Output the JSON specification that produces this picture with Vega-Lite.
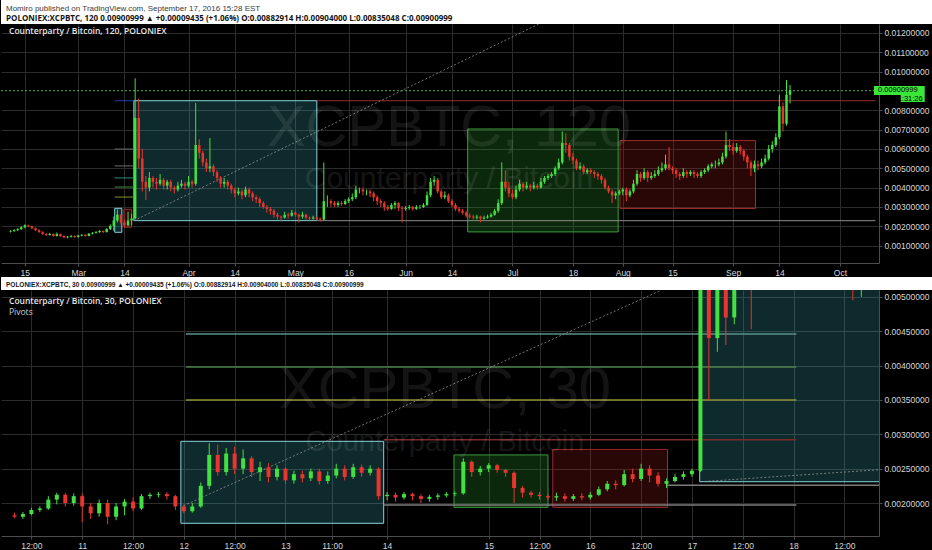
{
"$schema": "https://vega.github.io/schema/vega-lite/v6.json",
"background": "#000000",
"padding": 0,
"spacing": 0,
"resolve": {"scale": {"color": "independent", "fill": "independent", "stroke": "independent"}},
"config": {
 "view": {"stroke": null},
 "concat": {"spacing": 0},
 "font": "Liberation Sans",
 "axis": {"domainColor": "#4d4d4d", "tickColor": "#4d4d4d", "labelColor": "#d6d6d6", "labelFont": "Liberation Sans", "labelFontSize": 8.5, "gridColor": "#2c2c2c", "tickSize": 3, "labelPadding": 2, "labelOverlap": false},
 "axisY": {"labelOverlap": false}
},
"datasets": {
 "top": [
{"d":"2016-02-11","o":0.00172,"h":0.0018,"l":0.00168,"c":0.00175},
{"d":"2016-02-12","o":0.00175,"h":0.00185,"l":0.00172,"c":0.0018},
{"d":"2016-02-13","o":0.0018,"h":0.0019,"l":0.00176,"c":0.00185},
{"d":"2016-02-14","o":0.00185,"h":0.002,"l":0.00182,"c":0.00195},
{"d":"2016-02-15","o":0.00195,"h":0.0021,"l":0.0019,"c":0.00205},
{"d":"2016-02-16","o":0.00205,"h":0.00208,"l":0.00195,"c":0.002},
{"d":"2016-02-17","o":0.002,"h":0.00202,"l":0.00185,"c":0.0019},
{"d":"2016-02-18","o":0.0019,"h":0.00193,"l":0.00175,"c":0.0018},
{"d":"2016-02-19","o":0.0018,"h":0.00184,"l":0.00166,"c":0.0017},
{"d":"2016-02-20","o":0.0017,"h":0.00174,"l":0.00156,"c":0.0016},
{"d":"2016-02-21","o":0.0016,"h":0.00165,"l":0.0015,"c":0.00155},
{"d":"2016-02-22","o":0.00155,"h":0.00166,"l":0.00152,"c":0.0016},
{"d":"2016-02-23","o":0.0016,"h":0.00163,"l":0.00146,"c":0.0015},
{"d":"2016-02-24","o":0.0015,"h":0.00168,"l":0.00147,"c":0.0016},
{"d":"2016-02-25","o":0.0016,"h":0.00162,"l":0.00145,"c":0.0015},
{"d":"2016-02-26","o":0.0015,"h":0.00153,"l":0.00138,"c":0.00142},
{"d":"2016-02-27","o":0.00142,"h":0.0015,"l":0.00138,"c":0.00146},
{"d":"2016-02-28","o":0.00146,"h":0.00155,"l":0.00142,"c":0.0015},
{"d":"2016-02-29","o":0.0015,"h":0.00153,"l":0.0014,"c":0.00145},
{"d":"2016-03-01","o":0.00145,"h":0.00156,"l":0.00142,"c":0.00152},
{"d":"2016-03-02","o":0.00152,"h":0.0016,"l":0.00148,"c":0.00156},
{"d":"2016-03-03","o":0.00156,"h":0.00158,"l":0.00146,"c":0.0015},
{"d":"2016-03-04","o":0.0015,"h":0.00165,"l":0.00148,"c":0.00162},
{"d":"2016-03-05","o":0.00162,"h":0.0017,"l":0.00158,"c":0.00166},
{"d":"2016-03-06","o":0.00166,"h":0.00175,"l":0.00162,"c":0.0017},
{"d":"2016-03-07","o":0.0017,"h":0.0018,"l":0.00166,"c":0.00176},
{"d":"2016-03-08","o":0.00176,"h":0.00178,"l":0.00164,"c":0.0017},
{"d":"2016-03-09","o":0.0017,"h":0.0019,"l":0.00168,"c":0.00186},
{"d":"2016-03-10","o":0.00186,"h":0.0021,"l":0.0018,"c":0.00202},
{"d":"2016-03-11","o":0.00202,"h":0.0025,"l":0.00175,"c":0.0023},
{"d":"2016-03-12","o":0.0023,"h":0.00287,"l":0.0022,"c":0.0026},
{"d":"2016-03-13","o":0.0026,"h":0.00262,"l":0.0021,"c":0.0022},
{"d":"2016-03-14","o":0.0022,"h":0.00235,"l":0.00195,"c":0.00205},
{"d":"2016-03-15","o":0.00205,"h":0.00275,"l":0.002,"c":0.0023},
{"d":"2016-03-16","o":0.0023,"h":0.00264,"l":0.00205,"c":0.0024},
{"d":"2016-03-17","o":0.0024,"h":0.00965,"l":0.00238,"c":0.0076},
{"d":"2016-03-18","o":0.0076,"h":0.0086,"l":0.005,"c":0.0055},
{"d":"2016-03-19","o":0.0055,"h":0.006,"l":0.0038,"c":0.0043},
{"d":"2016-03-20","o":0.0043,"h":0.0046,"l":0.00336,"c":0.004},
{"d":"2016-03-21","o":0.004,"h":0.0048,"l":0.0038,"c":0.0045},
{"d":"2016-03-22","o":0.0045,"h":0.0046,"l":0.004,"c":0.0043},
{"d":"2016-03-23","o":0.0043,"h":0.0045,"l":0.0039,"c":0.0042},
{"d":"2016-03-24","o":0.0042,"h":0.0047,"l":0.0041,"c":0.0044},
{"d":"2016-03-25","o":0.0044,"h":0.0045,"l":0.0039,"c":0.0041},
{"d":"2016-03-26","o":0.0041,"h":0.0044,"l":0.0039,"c":0.0043},
{"d":"2016-03-27","o":0.0043,"h":0.0044,"l":0.0038,"c":0.004},
{"d":"2016-03-28","o":0.004,"h":0.0041,"l":0.0037,"c":0.0039},
{"d":"2016-03-29","o":0.0039,"h":0.0043,"l":0.0038,"c":0.0041},
{"d":"2016-03-30","o":0.0041,"h":0.0044,"l":0.004,"c":0.0042},
{"d":"2016-03-31","o":0.0042,"h":0.0043,"l":0.0039,"c":0.0041},
{"d":"2016-04-01","o":0.0041,"h":0.0046,"l":0.004,"c":0.0043},
{"d":"2016-04-02","o":0.0043,"h":0.0044,"l":0.004,"c":0.0042},
{"d":"2016-04-03","o":0.0042,"h":0.00837,"l":0.0041,"c":0.0062},
{"d":"2016-04-04","o":0.0062,"h":0.0065,"l":0.0055,"c":0.0058},
{"d":"2016-04-05","o":0.0058,"h":0.0059,"l":0.0051,"c":0.0053},
{"d":"2016-04-06","o":0.0053,"h":0.0055,"l":0.0048,"c":0.005},
{"d":"2016-04-07","o":0.005,"h":0.00656,"l":0.0048,"c":0.0051},
{"d":"2016-04-08","o":0.0051,"h":0.0052,"l":0.0046,"c":0.0048},
{"d":"2016-04-09","o":0.0048,"h":0.0049,"l":0.0043,"c":0.0045},
{"d":"2016-04-10","o":0.0045,"h":0.0046,"l":0.004,"c":0.0042},
{"d":"2016-04-11","o":0.0042,"h":0.0045,"l":0.004,"c":0.0043},
{"d":"2016-04-12","o":0.0043,"h":0.0044,"l":0.0039,"c":0.0041},
{"d":"2016-04-13","o":0.0041,"h":0.0042,"l":0.0037,"c":0.0039},
{"d":"2016-04-14","o":0.0039,"h":0.004,"l":0.0035,"c":0.0037},
{"d":"2016-04-15","o":0.0037,"h":0.004,"l":0.0036,"c":0.0038},
{"d":"2016-04-16","o":0.0038,"h":0.0039,"l":0.0034,"c":0.0036},
{"d":"2016-04-17","o":0.0036,"h":0.00405,"l":0.0035,"c":0.0039},
{"d":"2016-04-18","o":0.0039,"h":0.004,"l":0.0035,"c":0.0037},
{"d":"2016-04-19","o":0.0037,"h":0.0038,"l":0.0033,"c":0.0035},
{"d":"2016-04-20","o":0.0035,"h":0.0036,"l":0.0032,"c":0.0034},
{"d":"2016-04-21","o":0.0034,"h":0.0035,"l":0.003,"c":0.0032},
{"d":"2016-04-22","o":0.0032,"h":0.0033,"l":0.0029,"c":0.003},
{"d":"2016-04-23","o":0.003,"h":0.0031,"l":0.0027,"c":0.0029},
{"d":"2016-04-24","o":0.0029,"h":0.003,"l":0.0026,"c":0.0028},
{"d":"2016-04-25","o":0.0028,"h":0.0029,"l":0.00245,"c":0.0026},
{"d":"2016-04-26","o":0.0026,"h":0.0027,"l":0.00235,"c":0.0025},
{"d":"2016-04-27","o":0.0025,"h":0.00255,"l":0.00225,"c":0.00245},
{"d":"2016-04-28","o":0.00245,"h":0.00275,"l":0.0024,"c":0.0026},
{"d":"2016-04-29","o":0.0026,"h":0.0027,"l":0.0024,"c":0.00255},
{"d":"2016-04-30","o":0.00255,"h":0.00285,"l":0.0025,"c":0.0027},
{"d":"2016-05-01","o":0.0027,"h":0.0028,"l":0.0025,"c":0.0026},
{"d":"2016-05-02","o":0.0026,"h":0.00265,"l":0.0022,"c":0.0025},
{"d":"2016-05-03","o":0.0025,"h":0.00275,"l":0.0024,"c":0.0026},
{"d":"2016-05-04","o":0.0026,"h":0.00265,"l":0.00235,"c":0.00245},
{"d":"2016-05-05","o":0.00245,"h":0.0025,"l":0.0023,"c":0.0024},
{"d":"2016-05-06","o":0.0024,"h":0.00255,"l":0.00235,"c":0.00245},
{"d":"2016-05-07","o":0.00245,"h":0.0025,"l":0.0023,"c":0.0024},
{"d":"2016-05-08","o":0.0024,"h":0.00245,"l":0.00225,"c":0.00235},
{"d":"2016-05-09","o":0.00235,"h":0.0053,"l":0.0023,"c":0.0033},
{"d":"2016-05-10","o":0.0033,"h":0.0036,"l":0.003,"c":0.0033},
{"d":"2016-05-11","o":0.0033,"h":0.0034,"l":0.003,"c":0.0032},
{"d":"2016-05-12","o":0.0032,"h":0.0033,"l":0.003,"c":0.0031},
{"d":"2016-05-13","o":0.0031,"h":0.0033,"l":0.003,"c":0.0032},
{"d":"2016-05-14","o":0.0032,"h":0.0033,"l":0.00305,"c":0.00315},
{"d":"2016-05-15","o":0.00315,"h":0.0034,"l":0.0031,"c":0.0033},
{"d":"2016-05-16","o":0.0033,"h":0.0035,"l":0.0032,"c":0.0034},
{"d":"2016-05-17","o":0.0034,"h":0.0037,"l":0.0033,"c":0.0035},
{"d":"2016-05-18","o":0.0035,"h":0.0041,"l":0.0034,"c":0.0039},
{"d":"2016-05-19","o":0.0039,"h":0.004,"l":0.0037,"c":0.0039},
{"d":"2016-05-20","o":0.0039,"h":0.004,"l":0.0036,"c":0.0038},
{"d":"2016-05-21","o":0.0038,"h":0.0039,"l":0.0036,"c":0.0038},
{"d":"2016-05-22","o":0.0038,"h":0.0039,"l":0.0035,"c":0.0037},
{"d":"2016-05-23","o":0.0037,"h":0.0038,"l":0.0033,"c":0.0035},
{"d":"2016-05-24","o":0.0035,"h":0.0036,"l":0.0031,"c":0.0033},
{"d":"2016-05-25","o":0.0033,"h":0.0034,"l":0.003,"c":0.0032},
{"d":"2016-05-26","o":0.0032,"h":0.0033,"l":0.0028,"c":0.003},
{"d":"2016-05-27","o":0.003,"h":0.0031,"l":0.0028,"c":0.0029},
{"d":"2016-05-28","o":0.0029,"h":0.0032,"l":0.00285,"c":0.0031},
{"d":"2016-05-29","o":0.0031,"h":0.0033,"l":0.0029,"c":0.0032},
{"d":"2016-05-30","o":0.0032,"h":0.00325,"l":0.0028,"c":0.00295},
{"d":"2016-05-31","o":0.00295,"h":0.00305,"l":0.0022,"c":0.0029},
{"d":"2016-06-01","o":0.0029,"h":0.00305,"l":0.0028,"c":0.00295},
{"d":"2016-06-02","o":0.00295,"h":0.0031,"l":0.00285,"c":0.003},
{"d":"2016-06-03","o":0.003,"h":0.00305,"l":0.0028,"c":0.0029},
{"d":"2016-06-04","o":0.0029,"h":0.0031,"l":0.00285,"c":0.003},
{"d":"2016-06-05","o":0.003,"h":0.0031,"l":0.0029,"c":0.003},
{"d":"2016-06-06","o":0.003,"h":0.0032,"l":0.00295,"c":0.0031},
{"d":"2016-06-07","o":0.0031,"h":0.0038,"l":0.00305,"c":0.0036},
{"d":"2016-06-08","o":0.0036,"h":0.0045,"l":0.0035,"c":0.0043},
{"d":"2016-06-09","o":0.0043,"h":0.0046,"l":0.0041,"c":0.0044},
{"d":"2016-06-10","o":0.0044,"h":0.0045,"l":0.0037,"c":0.0038},
{"d":"2016-06-11","o":0.0038,"h":0.0039,"l":0.0034,"c":0.0035},
{"d":"2016-06-12","o":0.0035,"h":0.0038,"l":0.0034,"c":0.0036},
{"d":"2016-06-13","o":0.0036,"h":0.0037,"l":0.0032,"c":0.0033},
{"d":"2016-06-14","o":0.0033,"h":0.0034,"l":0.003,"c":0.0031},
{"d":"2016-06-15","o":0.0031,"h":0.0032,"l":0.0028,"c":0.0029},
{"d":"2016-06-16","o":0.0029,"h":0.003,"l":0.0027,"c":0.0028},
{"d":"2016-06-17","o":0.0028,"h":0.0029,"l":0.0026,"c":0.0027},
{"d":"2016-06-18","o":0.0027,"h":0.0028,"l":0.00245,"c":0.00255},
{"d":"2016-06-19","o":0.00255,"h":0.00265,"l":0.0024,"c":0.0025},
{"d":"2016-06-20","o":0.0025,"h":0.0026,"l":0.00235,"c":0.00245},
{"d":"2016-06-21","o":0.00245,"h":0.0026,"l":0.00235,"c":0.0025},
{"d":"2016-06-22","o":0.0025,"h":0.00255,"l":0.0022,"c":0.0024},
{"d":"2016-06-23","o":0.0024,"h":0.00255,"l":0.00235,"c":0.00245},
{"d":"2016-06-24","o":0.00245,"h":0.0026,"l":0.0024,"c":0.0025},
{"d":"2016-06-25","o":0.0025,"h":0.0027,"l":0.00245,"c":0.0026},
{"d":"2016-06-26","o":0.0026,"h":0.0029,"l":0.00255,"c":0.0028},
{"d":"2016-06-27","o":0.0028,"h":0.0034,"l":0.0027,"c":0.0032},
{"d":"2016-06-28","o":0.0032,"h":0.0053,"l":0.0031,"c":0.0043},
{"d":"2016-06-29","o":0.0043,"h":0.0049,"l":0.0038,"c":0.004},
{"d":"2016-06-30","o":0.004,"h":0.0043,"l":0.0035,"c":0.0037},
{"d":"2016-07-01","o":0.0037,"h":0.0039,"l":0.0034,"c":0.0035},
{"d":"2016-07-02","o":0.0035,"h":0.0041,"l":0.0034,"c":0.0039},
{"d":"2016-07-03","o":0.0039,"h":0.0044,"l":0.0038,"c":0.0042},
{"d":"2016-07-04","o":0.0042,"h":0.0043,"l":0.0038,"c":0.004},
{"d":"2016-07-05","o":0.004,"h":0.0043,"l":0.0039,"c":0.0041},
{"d":"2016-07-06","o":0.0041,"h":0.0042,"l":0.0038,"c":0.004},
{"d":"2016-07-07","o":0.004,"h":0.0043,"l":0.0039,"c":0.0041},
{"d":"2016-07-08","o":0.0041,"h":0.0042,"l":0.0039,"c":0.004},
{"d":"2016-07-09","o":0.004,"h":0.0045,"l":0.00395,"c":0.0043},
{"d":"2016-07-10","o":0.0043,"h":0.0046,"l":0.0042,"c":0.0045},
{"d":"2016-07-11","o":0.0045,"h":0.0047,"l":0.0044,"c":0.0046},
{"d":"2016-07-12","o":0.0046,"h":0.0048,"l":0.0045,"c":0.0047},
{"d":"2016-07-13","o":0.0047,"h":0.0051,"l":0.0046,"c":0.005},
{"d":"2016-07-14","o":0.005,"h":0.0055,"l":0.0049,"c":0.0053},
{"d":"2016-07-15","o":0.0053,"h":0.0069,"l":0.0052,"c":0.0063},
{"d":"2016-07-16","o":0.0063,"h":0.0068,"l":0.0058,"c":0.0062},
{"d":"2016-07-17","o":0.0062,"h":0.0063,"l":0.0054,"c":0.0056},
{"d":"2016-07-18","o":0.0056,"h":0.0058,"l":0.0052,"c":0.0054},
{"d":"2016-07-19","o":0.0054,"h":0.0055,"l":0.0049,"c":0.005},
{"d":"2016-07-20","o":0.005,"h":0.0053,"l":0.0049,"c":0.0051},
{"d":"2016-07-21","o":0.0051,"h":0.0052,"l":0.0047,"c":0.0048},
{"d":"2016-07-22","o":0.0048,"h":0.005,"l":0.0047,"c":0.0049},
{"d":"2016-07-23","o":0.0049,"h":0.005,"l":0.0047,"c":0.0048},
{"d":"2016-07-24","o":0.0048,"h":0.0049,"l":0.0045,"c":0.0047},
{"d":"2016-07-25","o":0.0047,"h":0.0048,"l":0.0044,"c":0.0046},
{"d":"2016-07-26","o":0.0046,"h":0.0047,"l":0.0042,"c":0.0044},
{"d":"2016-07-27","o":0.0044,"h":0.0045,"l":0.0039,"c":0.004},
{"d":"2016-07-28","o":0.004,"h":0.0041,"l":0.0037,"c":0.0038},
{"d":"2016-07-29","o":0.0038,"h":0.0039,"l":0.0032,"c":0.0036},
{"d":"2016-07-30","o":0.0036,"h":0.0038,"l":0.0034,"c":0.0037},
{"d":"2016-07-31","o":0.0037,"h":0.0039,"l":0.0036,"c":0.0038},
{"d":"2016-08-01","o":0.0038,"h":0.004,"l":0.0036,"c":0.0039},
{"d":"2016-08-02","o":0.0039,"h":0.004,"l":0.0033,"c":0.0036},
{"d":"2016-08-03","o":0.0036,"h":0.0039,"l":0.0035,"c":0.0038},
{"d":"2016-08-04","o":0.0038,"h":0.0044,"l":0.0037,"c":0.0042},
{"d":"2016-08-05","o":0.0042,"h":0.0049,"l":0.0041,"c":0.0047},
{"d":"2016-08-06","o":0.0047,"h":0.0048,"l":0.0043,"c":0.0045},
{"d":"2016-08-07","o":0.0045,"h":0.005,"l":0.0044,"c":0.0048},
{"d":"2016-08-08","o":0.0048,"h":0.0049,"l":0.0043,"c":0.0045},
{"d":"2016-08-09","o":0.0045,"h":0.0048,"l":0.0044,"c":0.0046},
{"d":"2016-08-10","o":0.0046,"h":0.0049,"l":0.0045,"c":0.0047},
{"d":"2016-08-11","o":0.0047,"h":0.0051,"l":0.0046,"c":0.0049},
{"d":"2016-08-12","o":0.0049,"h":0.0053,"l":0.0048,"c":0.005},
{"d":"2016-08-13","o":0.005,"h":0.0057,"l":0.0049,"c":0.0052},
{"d":"2016-08-14","o":0.0052,"h":0.0061,"l":0.0049,"c":0.005},
{"d":"2016-08-15","o":0.005,"h":0.0051,"l":0.0047,"c":0.0049},
{"d":"2016-08-16","o":0.0049,"h":0.005,"l":0.0045,"c":0.0047},
{"d":"2016-08-17","o":0.0047,"h":0.0048,"l":0.0044,"c":0.0046},
{"d":"2016-08-18","o":0.0046,"h":0.005,"l":0.0045,"c":0.0048},
{"d":"2016-08-19","o":0.0048,"h":0.0049,"l":0.0045,"c":0.0047},
{"d":"2016-08-20","o":0.0047,"h":0.0049,"l":0.0046,"c":0.0048},
{"d":"2016-08-21","o":0.0048,"h":0.0049,"l":0.0045,"c":0.0047},
{"d":"2016-08-22","o":0.0047,"h":0.0048,"l":0.0045,"c":0.0046},
{"d":"2016-08-23","o":0.0046,"h":0.0049,"l":0.0045,"c":0.0048},
{"d":"2016-08-24","o":0.0048,"h":0.005,"l":0.0047,"c":0.0049},
{"d":"2016-08-25","o":0.0049,"h":0.0052,"l":0.0048,"c":0.0051},
{"d":"2016-08-26","o":0.0051,"h":0.0053,"l":0.005,"c":0.0052},
{"d":"2016-08-27","o":0.0052,"h":0.0054,"l":0.005,"c":0.0052},
{"d":"2016-08-28","o":0.0052,"h":0.0055,"l":0.0051,"c":0.0053},
{"d":"2016-08-29","o":0.0053,"h":0.0058,"l":0.0052,"c":0.0056},
{"d":"2016-08-30","o":0.0056,"h":0.0069,"l":0.0055,"c":0.0062},
{"d":"2016-08-31","o":0.0062,"h":0.0065,"l":0.0059,"c":0.0061},
{"d":"2016-09-01","o":0.0061,"h":0.0063,"l":0.0057,"c":0.0059},
{"d":"2016-09-02","o":0.0059,"h":0.0063,"l":0.0058,"c":0.0061},
{"d":"2016-09-03","o":0.0061,"h":0.0062,"l":0.0057,"c":0.0059},
{"d":"2016-09-04","o":0.0059,"h":0.006,"l":0.0054,"c":0.0056},
{"d":"2016-09-05","o":0.0056,"h":0.0057,"l":0.005,"c":0.0053},
{"d":"2016-09-06","o":0.0053,"h":0.0054,"l":0.0046,"c":0.005},
{"d":"2016-09-07","o":0.005,"h":0.0054,"l":0.0048,"c":0.0052},
{"d":"2016-09-08","o":0.0052,"h":0.0054,"l":0.0049,"c":0.0051},
{"d":"2016-09-09","o":0.0051,"h":0.0055,"l":0.005,"c":0.0053},
{"d":"2016-09-10","o":0.0053,"h":0.0057,"l":0.0052,"c":0.0055},
{"d":"2016-09-11","o":0.0055,"h":0.0062,"l":0.0054,"c":0.006},
{"d":"2016-09-12","o":0.006,"h":0.0064,"l":0.0058,"c":0.0062},
{"d":"2016-09-13","o":0.0062,"h":0.0068,"l":0.0061,"c":0.0066},
{"d":"2016-09-14","o":0.0066,"h":0.0088,"l":0.0065,"c":0.0082},
{"d":"2016-09-15","o":0.0082,"h":0.0084,"l":0.0069,"c":0.0073},
{"d":"2016-09-16","o":0.0073,"h":0.00956,"l":0.0072,"c":0.0088},
{"d":"2016-09-17","o":0.0088,"h":0.0093,"l":0.00835,"c":0.00901}
 ],
 "bot": [
{"t":"2016-03-10T08:00Z","o":0.00182,"h":0.00186,"l":0.00178,"c":0.0018},
{"t":"2016-03-10T10:00Z","o":0.0018,"h":0.00187,"l":0.00177,"c":0.00184},
{"t":"2016-03-10T12:00Z","o":0.00184,"h":0.00193,"l":0.00182,"c":0.0019},
{"t":"2016-03-10T14:00Z","o":0.0019,"h":0.00195,"l":0.00187,"c":0.00192},
{"t":"2016-03-10T16:00Z","o":0.00192,"h":0.0021,"l":0.0019,"c":0.00205},
{"t":"2016-03-10T18:00Z","o":0.00205,"h":0.00215,"l":0.00198,"c":0.00212},
{"t":"2016-03-10T20:00Z","o":0.00212,"h":0.00215,"l":0.00195,"c":0.002},
{"t":"2016-03-10T22:00Z","o":0.002,"h":0.00214,"l":0.00196,"c":0.0021},
{"t":"2016-03-11T00:00Z","o":0.0021,"h":0.00214,"l":0.00172,"c":0.00195},
{"t":"2016-03-11T02:00Z","o":0.00195,"h":0.002,"l":0.00177,"c":0.00185},
{"t":"2016-03-11T04:00Z","o":0.00185,"h":0.00205,"l":0.0018,"c":0.002},
{"t":"2016-03-11T06:00Z","o":0.002,"h":0.00205,"l":0.00169,"c":0.0018},
{"t":"2016-03-11T08:00Z","o":0.0018,"h":0.002,"l":0.00175,"c":0.00195},
{"t":"2016-03-11T10:00Z","o":0.00195,"h":0.00206,"l":0.00182,"c":0.00202},
{"t":"2016-03-11T12:00Z","o":0.00202,"h":0.00208,"l":0.00188,"c":0.00192},
{"t":"2016-03-11T14:00Z","o":0.00192,"h":0.00213,"l":0.0019,"c":0.0021},
{"t":"2016-03-11T16:00Z","o":0.0021,"h":0.00215,"l":0.00206,"c":0.00212},
{"t":"2016-03-11T18:00Z","o":0.00212,"h":0.00216,"l":0.00208,"c":0.00213},
{"t":"2016-03-11T20:00Z","o":0.00213,"h":0.00216,"l":0.00205,"c":0.0021},
{"t":"2016-03-11T22:00Z","o":0.0021,"h":0.00212,"l":0.0019,"c":0.00195},
{"t":"2016-03-12T00:00Z","o":0.00195,"h":0.00198,"l":0.00185,"c":0.00188},
{"t":"2016-03-12T02:00Z","o":0.00188,"h":0.002,"l":0.00186,"c":0.00195},
{"t":"2016-03-12T04:00Z","o":0.00195,"h":0.0023,"l":0.00193,"c":0.00225},
{"t":"2016-03-12T06:00Z","o":0.00225,"h":0.00287,"l":0.0022,"c":0.0027},
{"t":"2016-03-12T08:00Z","o":0.0027,"h":0.00285,"l":0.0024,"c":0.00245},
{"t":"2016-03-12T10:00Z","o":0.00245,"h":0.0028,"l":0.0024,"c":0.00272},
{"t":"2016-03-12T12:00Z","o":0.00272,"h":0.00282,"l":0.00242,"c":0.0025},
{"t":"2016-03-12T14:00Z","o":0.0025,"h":0.00278,"l":0.00242,"c":0.00265},
{"t":"2016-03-12T16:00Z","o":0.00265,"h":0.00268,"l":0.00238,"c":0.00245},
{"t":"2016-03-12T18:00Z","o":0.00245,"h":0.0026,"l":0.00232,"c":0.00252},
{"t":"2016-03-12T20:00Z","o":0.00252,"h":0.00258,"l":0.0023,"c":0.00238},
{"t":"2016-03-12T22:00Z","o":0.00238,"h":0.00255,"l":0.00233,"c":0.0025},
{"t":"2016-03-13T00:00Z","o":0.0025,"h":0.00252,"l":0.00228,"c":0.00233},
{"t":"2016-03-13T02:00Z","o":0.00233,"h":0.00247,"l":0.00228,"c":0.00242},
{"t":"2016-03-13T04:00Z","o":0.00242,"h":0.00247,"l":0.0023,"c":0.00236},
{"t":"2016-03-13T06:00Z","o":0.00236,"h":0.0025,"l":0.00232,"c":0.00246},
{"t":"2016-03-13T08:00Z","o":0.00246,"h":0.0025,"l":0.00227,"c":0.00232},
{"t":"2016-03-13T10:00Z","o":0.00232,"h":0.00246,"l":0.00228,"c":0.0024},
{"t":"2016-03-13T12:00Z","o":0.0024,"h":0.00257,"l":0.00236,"c":0.0025},
{"t":"2016-03-13T14:00Z","o":0.0025,"h":0.00255,"l":0.00233,"c":0.00238},
{"t":"2016-03-13T16:00Z","o":0.00238,"h":0.00257,"l":0.00235,"c":0.00252},
{"t":"2016-03-13T18:00Z","o":0.00252,"h":0.00256,"l":0.00238,"c":0.00244},
{"t":"2016-03-13T20:00Z","o":0.00244,"h":0.00255,"l":0.0024,"c":0.0025},
{"t":"2016-03-13T22:00Z","o":0.0025,"h":0.00252,"l":0.00205,"c":0.0021},
{"t":"2016-03-14T00:00Z","o":0.0021,"h":0.00216,"l":0.00204,"c":0.00212},
{"t":"2016-03-14T02:00Z","o":0.00212,"h":0.00215,"l":0.00202,"c":0.00208},
{"t":"2016-03-14T04:00Z","o":0.00208,"h":0.00216,"l":0.00205,"c":0.00213},
{"t":"2016-03-14T06:00Z","o":0.00213,"h":0.00215,"l":0.00204,"c":0.0021},
{"t":"2016-03-14T08:00Z","o":0.0021,"h":0.00213,"l":0.002,"c":0.00206},
{"t":"2016-03-14T10:00Z","o":0.00206,"h":0.00212,"l":0.00202,"c":0.00209},
{"t":"2016-03-14T12:00Z","o":0.00209,"h":0.00214,"l":0.00205,"c":0.00211},
{"t":"2016-03-14T14:00Z","o":0.00211,"h":0.00216,"l":0.00208,"c":0.00213},
{"t":"2016-03-14T16:00Z","o":0.00213,"h":0.00217,"l":0.0021,"c":0.00214},
{"t":"2016-03-14T18:00Z","o":0.00214,"h":0.00265,"l":0.00212,"c":0.0026},
{"t":"2016-03-14T20:00Z","o":0.0026,"h":0.00262,"l":0.00238,"c":0.00245},
{"t":"2016-03-14T22:00Z","o":0.00245,"h":0.00254,"l":0.0024,"c":0.0025},
{"t":"2016-03-15T00:00Z","o":0.0025,"h":0.00258,"l":0.00245,"c":0.00255},
{"t":"2016-03-15T02:00Z","o":0.00255,"h":0.00257,"l":0.00244,"c":0.00248},
{"t":"2016-03-15T04:00Z","o":0.00248,"h":0.0025,"l":0.00238,"c":0.00244},
{"t":"2016-03-15T06:00Z","o":0.00244,"h":0.00246,"l":0.002,"c":0.00222},
{"t":"2016-03-15T08:00Z","o":0.00222,"h":0.00225,"l":0.00208,"c":0.00215},
{"t":"2016-03-15T10:00Z","o":0.00215,"h":0.00218,"l":0.00208,"c":0.00212},
{"t":"2016-03-15T12:00Z","o":0.00212,"h":0.00216,"l":0.00205,"c":0.0021},
{"t":"2016-03-15T14:00Z","o":0.0021,"h":0.00214,"l":0.00204,"c":0.00208},
{"t":"2016-03-15T16:00Z","o":0.00208,"h":0.00215,"l":0.00203,"c":0.0021},
{"t":"2016-03-15T18:00Z","o":0.0021,"h":0.00214,"l":0.00202,"c":0.00206},
{"t":"2016-03-15T20:00Z","o":0.00206,"h":0.00213,"l":0.00203,"c":0.0021},
{"t":"2016-03-15T22:00Z","o":0.0021,"h":0.00214,"l":0.00204,"c":0.00208},
{"t":"2016-03-16T00:00Z","o":0.00208,"h":0.00216,"l":0.00205,"c":0.00212},
{"t":"2016-03-16T02:00Z","o":0.00212,"h":0.00224,"l":0.0021,"c":0.0022},
{"t":"2016-03-16T04:00Z","o":0.0022,"h":0.00232,"l":0.00217,"c":0.00228},
{"t":"2016-03-16T06:00Z","o":0.00228,"h":0.00233,"l":0.0022,"c":0.00226},
{"t":"2016-03-16T08:00Z","o":0.00226,"h":0.00248,"l":0.00224,"c":0.00242},
{"t":"2016-03-16T10:00Z","o":0.00242,"h":0.0025,"l":0.0023,"c":0.00235},
{"t":"2016-03-16T12:00Z","o":0.00235,"h":0.00257,"l":0.00232,"c":0.0025},
{"t":"2016-03-16T14:00Z","o":0.0025,"h":0.00255,"l":0.0023,"c":0.0024},
{"t":"2016-03-16T16:00Z","o":0.0024,"h":0.00245,"l":0.00224,"c":0.00228},
{"t":"2016-03-16T18:00Z","o":0.00228,"h":0.00236,"l":0.00222,"c":0.00232},
{"t":"2016-03-16T20:00Z","o":0.00232,"h":0.00242,"l":0.0023,"c":0.00238},
{"t":"2016-03-16T22:00Z","o":0.00238,"h":0.00246,"l":0.00234,"c":0.00242},
{"t":"2016-03-17T00:00Z","o":0.00242,"h":0.0025,"l":0.00238,"c":0.00247},
{"t":"2016-03-17T02:00Z","o":0.00247,"h":0.0068,"l":0.00245,"c":0.0053},
{"t":"2016-03-17T04:00Z","o":0.0053,"h":0.0062,"l":0.0035,"c":0.0044},
{"t":"2016-03-17T06:00Z","o":0.0044,"h":0.0059,"l":0.0042,"c":0.0051},
{"t":"2016-03-17T08:00Z","o":0.0051,"h":0.006,"l":0.0043,"c":0.0047},
{"t":"2016-03-17T10:00Z","o":0.0047,"h":0.006,"l":0.0046,"c":0.0055},
{"t":"2016-03-17T12:00Z","o":0.0055,"h":0.0066,"l":0.0052,"c":0.006},
{"t":"2016-03-17T14:00Z","o":0.006,"h":0.0064,"l":0.00453,"c":0.0056},
{"t":"2016-03-17T16:00Z","o":0.0056,"h":0.0067,"l":0.0053,"c":0.0062},
{"t":"2016-03-17T18:00Z","o":0.0062,"h":0.007,"l":0.0059,"c":0.0066},
{"t":"2016-03-17T20:00Z","o":0.0066,"h":0.0073,"l":0.0063,"c":0.0069},
{"t":"2016-03-17T22:00Z","o":0.0069,"h":0.0081,"l":0.0066,"c":0.0076},
{"t":"2016-03-18T00:00Z","o":0.0076,"h":0.0091,"l":0.0072,"c":0.0082},
{"t":"2016-03-18T02:00Z","o":0.0082,"h":0.00965,"l":0.0078,"c":0.009},
{"t":"2016-03-18T04:00Z","o":0.009,"h":0.0093,"l":0.0076,"c":0.0081},
{"t":"2016-03-18T06:00Z","o":0.0081,"h":0.0084,"l":0.0066,"c":0.0074},
{"t":"2016-03-18T08:00Z","o":0.0074,"h":0.0078,"l":0.0058,"c":0.0066},
{"t":"2016-03-18T10:00Z","o":0.0066,"h":0.007,"l":0.0054,"c":0.006},
{"t":"2016-03-18T12:00Z","o":0.006,"h":0.0063,"l":0.0051,"c":0.0056},
{"t":"2016-03-18T14:00Z","o":0.0056,"h":0.0059,"l":0.00495,"c":0.0053},
{"t":"2016-03-18T16:00Z","o":0.0053,"h":0.0058,"l":0.005,"c":0.0055},
{"t":"2016-03-18T18:00Z","o":0.0055,"h":0.0058,"l":0.00515,"c":0.0054}
 ]
},
"vconcat": [
 {
  "width": 932, "height": 24,
  "view": {"fill": "#ffffff", "stroke": null},
  "title": {"text": "Momiro published on TradingView.com, September 17, 2016 15:28 EST", "subtitle": "POLONIEX:XCPBTC, 120  0.00900999 ▲ +0.00009435 (+1.06%)  O:0.00882914  H:0.00904000  L:0.00835048  C:0.00900999", "anchor": "start", "frame": "group", "offset": -23, "dx": 5, "font": "Liberation Sans", "fontSize": 8, "fontWeight": "normal", "color": "#3a3a3a", "subtitleFont": "Open Sans", "subtitleFontSize": 8, "subtitleFontWeight": "bold", "subtitleColor": "#151515", "subtitlePadding": 2},
  "data": {"values": [{"s": ""}]},
  "mark": {"type": "text", "text": ""}
 },
 {
  "width": 878, "height": 239,
  "view": {"fill": "#000000", "stroke": null},
  "title": {"text": "Counterparty / Bitcoin, 120, POLONIEX", "anchor": "start", "frame": "group", "offset": -11, "dx": 8, "font": "Open Sans", "fontSize": 8.5, "fontWeight": 600, "color": "#e6e6e6"},
  "resolve": {"axis": {"x": "independent", "y": "independent"}},
  "layer": [
   {
    "data": {"values": [
     {"x1":"2016-03-11T06:00Z","x2":"2016-03-13T06:00Z","y1":0.00293,"y2":0.00169,"k":"cyan"},
     {"x1":"2016-03-13T20:00Z","x2":"2016-03-16T00:00Z","y1":0.00288,"y2":0.00195,"k":"red"},
     {"x1":"2016-03-16T15:00Z","x2":"2016-05-07T01:00Z","y1":0.00849,"y2":0.00229,"k":"cyan"},
     {"x1":"2016-06-18T10:00Z","x2":"2016-07-30T17:00Z","y1":0.00703,"y2":0.00171,"k":"green"},
     {"x1":"2016-07-31T05:00Z","x2":"2016-09-07T07:00Z","y1":0.00643,"y2":0.00292,"k":"red"}
    ]},
    "mark": {"type": "rect", "fillOpacity": 0.25, "strokeWidth": 1, "clip": true},
    "encoding": {
     "x": {"field": "x1", "type": "temporal", "title": null,
       "scale": {"type": "utc", "nice": false, "domain": [{"year":2016,"month":2,"date":9,"hours":17,"utc":true},{"year":2016,"month":10,"date":10,"hours":14,"utc":true}]},
       "axis": {"grid": true, "labelOverlap": false, "labelFlush": false,
         "values": [{"year":2016,"month":2,"date":15,"utc":true},{"year":2016,"month":3,"date":1,"utc":true},{"year":2016,"month":3,"date":14,"utc":true},{"year":2016,"month":4,"date":1,"utc":true},{"year":2016,"month":4,"date":14,"utc":true},{"year":2016,"month":5,"date":1,"utc":true},{"year":2016,"month":5,"date":16,"utc":true},{"year":2016,"month":6,"date":1,"utc":true},{"year":2016,"month":6,"date":14,"utc":true},{"year":2016,"month":7,"date":1,"utc":true},{"year":2016,"month":7,"date":18,"utc":true},{"year":2016,"month":8,"date":1,"utc":true},{"year":2016,"month":8,"date":15,"utc":true},{"year":2016,"month":9,"date":1,"utc":true},{"year":2016,"month":9,"date":14,"utc":true},{"year":2016,"month":10,"date":1,"utc":true}],
         "labelExpr": "utcdate(datum.value) == 1 ? utcFormat(datum.value, '%b') : utcFormat(datum.value, '%d')"}},
     "x2": {"field": "x2"},
     "y": {"field": "y1", "type": "quantitative", "title": null,
       "scale": {"domain": [0.000103, 0.012455], "nice": false, "zero": false},
       "axis": {"orient": "right", "grid": true, "format": ".8f", "labelOverlap": false, "labelSeparation": 0, "labelBound": false, "values": [0.001,0.002,0.003,0.004,0.005,0.006,0.007,0.008,0.010,0.011,0.012]}},
     "y2": {"field": "y2"},
     "fill": {"field": "k", "type": "nominal", "legend": null, "scale": {"domain": ["cyan","green","red"], "range": ["#3aa9b0","#2e9e2e","#a81c1c"]}},
     "stroke": {"field": "k", "type": "nominal", "legend": null, "scale": {"domain": ["cyan","green","red"], "range": ["#86d4da","#3c9c3c","#9c2a2a"]}}
    }
   },
   {
    "data": {"values": [
     {"x1":"2016-05-07T01:00Z","x2":"2016-10-11T00:00Z","y":0.00849,"k":"red"},
     {"x1":"2016-03-11T06:00Z","x2":"2016-03-16T15:00Z","y":0.00849,"k":"blue"},
     {"x1":"2016-05-07T01:00Z","x2":"2016-10-11T00:00Z","y":0.00229,"k":"gray"},
     {"x1":"2016-03-11T06:00Z","x2":"2016-03-16T15:00Z","y":0.00599,"k":"fg"},
     {"x1":"2016-03-11T06:00Z","x2":"2016-03-16T15:00Z","y":0.00512,"k":"fg"},
     {"x1":"2016-03-11T06:00Z","x2":"2016-03-16T15:00Z","y":0.0045,"k":"ft"},
     {"x1":"2016-03-11T06:00Z","x2":"2016-03-16T15:00Z","y":0.00403,"k":"fgr"},
     {"x1":"2016-03-11T06:00Z","x2":"2016-03-16T15:00Z","y":0.00351,"k":"fo"}
    ]},
    "mark": {"type": "rule", "strokeWidth": 1, "clip": true},
    "encoding": {
     "x": {"field": "x1", "type": "temporal", "axis": null},
     "x2": {"field": "x2"},
     "y": {"field": "y", "type": "quantitative", "axis": null},
     "color": {"field": "k", "type": "nominal", "legend": null, "scale": {"domain": ["red","blue","gray","fg","ft","fgr","fo"], "range": ["#9c2b2b","#2a3aa8","#8c8c8c","#6e6e6e","#2f8a80","#3d8c3d","#8c8c2e"]}}
    }
   },
   {
    "data": {"values": [{"p": 0.00900999}]},
    "mark": {"type": "rule", "color": "#4caf50", "strokeWidth": 1, "strokeDash": [2, 2]},
    "encoding": {"y": {"field": "p", "type": "quantitative", "axis": null}}
   },
   {
    "data": {"values": [{"t":"2016-03-16T15:00Z","p":0.00229},{"t":"2016-07-08T10:00Z","p":0.012455}]},
    "mark": {"type": "line", "color": "#a0a0a0", "strokeWidth": 1, "strokeDash": [2, 2], "opacity": 0.7, "clip": true},
    "encoding": {"x": {"field": "t", "type": "temporal", "axis": null}, "y": {"field": "p", "type": "quantitative", "axis": null}}
   },
   {
    "data": {"values": [{"label": "XCPBTC, 120"}]},
    "mark": {"type": "text", "font": "Liberation Sans", "fontSize": 58, "color": "#ffffff", "opacity": 0.08, "dx": 9, "dy": -15, "align": "center", "baseline": "middle"},
    "encoding": {"text": {"field": "label"}}
   },
   {
    "data": {"values": [{"label": "Counterparty / Bitcoin"}]},
    "mark": {"type": "text", "font": "Liberation Sans", "fontSize": 30, "color": "#ffffff", "opacity": 0.08, "dx": 9, "dy": 35, "align": "center", "baseline": "middle"},
    "encoding": {"text": {"field": "label"}}
   },
   {
    "data": {"name": "top"},
    "mark": {"type": "rule", "strokeWidth": 1, "clip": true},
    "encoding": {
     "x": {"field": "d", "type": "temporal", "axis": null},
     "y": {"field": "l", "type": "quantitative", "axis": null},
     "y2": {"field": "h"},
     "color": {"condition": {"test": "datum.c >= datum.o", "value": "#43e043"}, "value": "#e8352d"}
    }
   },
   {
    "data": {"name": "top"},
    "mark": {"type": "bar", "width": 2.5, "clip": true},
    "encoding": {
     "x": {"field": "d", "type": "temporal", "axis": null},
     "y": {"field": "o", "type": "quantitative", "axis": null},
     "y2": {"field": "c"},
     "color": {"condition": {"test": "datum.c >= datum.o", "value": "#43e043"}, "value": "#e8352d"}
    }
   },
   {
    "data": {"values": [
     {"x1":"2016-10-10T14:00Z","x2":"2016-10-24T20:00Z","y1":0.009251,"y2":0.008786},
     {"x1":"2016-10-18T02:00Z","x2":"2016-10-24T20:00Z","y1":0.008786,"y2":0.008424}
    ]},
    "mark": {"type": "rect", "color": "#39e639"},
    "encoding": {
     "x": {"field": "x1", "type": "temporal", "axis": null},
     "x2": {"field": "x2"},
     "y": {"field": "y1", "type": "quantitative", "axis": null},
     "y2": {"field": "y2"}
    }
   },
   {
    "data": {"values": [
     {"t":"2016-10-10T14:00Z","p":0.00902,"label":"0.00900999"},
     {"t":"2016-10-24T20:00Z","p":0.00857,"label":"1:31:26"}
    ]},
    "mark": {"type": "text", "font": "Liberation Sans", "fontSize": 7.5, "color": "#000000", "baseline": "middle", "align": {"expr": "datum.label == '1:31:26' ? 'right' : 'left'"}, "dx": {"expr": "datum.label == '1:31:26' ? -2 : 4"}},
    "encoding": {
     "x": {"field": "t", "type": "temporal", "axis": null},
     "y": {"field": "p", "type": "quantitative", "axis": null},
     "text": {"field": "label"}
    }
   }
  ]
 },
 {
  "width": 932, "height": 13,
  "view": {"fill": "#ffffff", "stroke": null},
  "title": {"text": "POLONIEX:XCPBTC, 30  0.00900999 ▲ +0.00009435 (+1.06%)  O:0.00882914  H:0.00904000  L:0.00835048  C:0.00900999", "anchor": "start", "frame": "group", "offset": -11, "dx": 5, "font": "Liberation Sans", "fontSize": 6.5, "fontWeight": "bold", "color": "#151515"},
  "data": {"values": [{"s": ""}]},
  "mark": {"type": "text", "text": ""}
 },
 {
  "width": 878, "height": 246,
  "view": {"fill": "#000000", "stroke": null},
  "title": {"text": "Counterparty / Bitcoin, 30, POLONIEX", "subtitle": "Pivots", "anchor": "start", "frame": "group", "offset": -26, "dx": 8, "font": "Open Sans", "fontSize": 8.5, "fontWeight": 600, "color": "#e6e6e6", "subtitleFont": "Open Sans", "subtitleFontSize": 8.5, "subtitleColor": "#d0d0d0", "subtitlePadding": 2},
  "resolve": {"axis": {"x": "independent", "y": "independent"}},
  "layer": [
   {
    "data": {"values": [
     {"x1":"2016-03-11T23:18Z","x2":"2016-03-13T23:12Z","y1":0.002898,"y2":0.001705,"k":"cyan"},
     {"x1":"2016-03-14T15:48Z","x2":"2016-03-15T14:00Z","y1":0.0027,"y2":0.001937,"k":"green"},
     {"x1":"2016-03-15T15:08Z","x2":"2016-03-16T18:14Z","y1":0.00278,"y2":0.001937,"k":"red"},
     {"x1":"2016-03-17T01:50Z","x2":"2016-03-19T12:00Z","y1":0.006,"y2":0.00231,"k":"cyan"}
    ]},
    "mark": {"type": "rect", "fillOpacity": 0.25, "strokeWidth": 1, "clip": true},
    "encoding": {
     "x": {"field": "x1", "type": "temporal", "title": null,
       "scale": {"type": "utc", "nice": false, "domain": [{"year":2016,"month":3,"date":10,"hours":6,"utc":true},{"year":2016,"month":3,"date":18,"hours":19,"utc":true}]},
       "axis": {"grid": true, "labelOverlap": false, "labelFlush": false,
         "values": [{"year":2016,"month":3,"date":10,"hours":12,"utc":true},{"year":2016,"month":3,"date":11,"utc":true},{"year":2016,"month":3,"date":11,"hours":12,"utc":true},{"year":2016,"month":3,"date":12,"utc":true},{"year":2016,"month":3,"date":12,"hours":12,"utc":true},{"year":2016,"month":3,"date":13,"utc":true},{"year":2016,"month":3,"date":13,"hours":11,"utc":true},{"year":2016,"month":3,"date":14,"utc":true},{"year":2016,"month":3,"date":15,"utc":true},{"year":2016,"month":3,"date":15,"hours":12,"utc":true},{"year":2016,"month":3,"date":16,"utc":true},{"year":2016,"month":3,"date":16,"hours":12,"utc":true},{"year":2016,"month":3,"date":17,"utc":true},{"year":2016,"month":3,"date":17,"hours":12,"utc":true},{"year":2016,"month":3,"date":18,"utc":true},{"year":2016,"month":3,"date":18,"hours":12,"utc":true}],
         "labelExpr": "utchours(datum.value) == 0 ? utcFormat(datum.value, '%d') : utcFormat(datum.value, '%H:%M')"}},
     "x2": {"field": "x2"},
     "y": {"field": "y1", "type": "quantitative", "title": null,
       "scale": {"domain": [0.00152, 0.0051], "nice": false, "zero": false},
       "axis": {"orient": "right", "grid": true, "format": ".8f", "labelOverlap": false, "values": [0.002,0.0025,0.003,0.0035,0.004,0.0045,0.005]}},
     "y2": {"field": "y2"},
     "fill": {"field": "k", "type": "nominal", "legend": null, "scale": {"domain": ["cyan","green","red"], "range": ["#3aa9b0","#2e9e2e","#a81c1c"]}},
     "stroke": {"field": "k", "type": "nominal", "legend": null, "scale": {"domain": ["cyan","green","red"], "range": ["#86d4da","#3c9c3c","#9c2a2a"]}}
    }
   },
   {
    "data": {"values": [
     {"x1":"2016-03-12T00:30Z","x2":"2016-03-18T00:40Z","y":0.00446,"k":"p1"},
     {"x1":"2016-03-12T00:30Z","x2":"2016-03-18T00:40Z","y":0.00398,"k":"p2"},
     {"x1":"2016-03-12T00:30Z","x2":"2016-03-18T00:40Z","y":0.0035,"k":"p3"},
     {"x1":"2016-03-13T23:12Z","x2":"2016-03-18T00:40Z","y":0.00292,"k":"p4"},
     {"x1":"2016-03-13T23:12Z","x2":"2016-03-18T00:40Z","y":0.00197,"k":"gray"},
     {"x1":"2016-03-16T17:54Z","x2":"2016-03-19T00:00Z","y":0.00226,"k":"gray"}
    ]},
    "mark": {"type": "rule", "strokeWidth": 1.5, "clip": true},
    "encoding": {
     "x": {"field": "x1", "type": "temporal", "axis": null},
     "x2": {"field": "x2"},
     "y": {"field": "y", "type": "quantitative", "axis": null},
     "color": {"field": "k", "type": "nominal", "legend": null, "scale": {"domain": ["p1","p2","p3","p4","gray"], "range": ["#5a8f8a","#4c7f4c","#8f8f35","#7d2a2a","#7c7c7c"]}}
    }
   },
   {
    "data": {"values": [
     {"t":"2016-03-11T23:56Z","p":0.001961,"id":"a"},{"t":"2016-03-16T16:30Z","p":0.00509,"id":"a"},
     {"t":"2016-03-17T02:00Z","p":0.00231,"id":"b"},{"t":"2016-03-19T00:00Z","p":0.0025,"id":"b"}
    ]},
    "mark": {"type": "line", "color": "#a0a0a0", "strokeWidth": 1, "strokeDash": [2, 2], "opacity": 0.7, "clip": true},
    "encoding": {"x": {"field": "t", "type": "temporal", "axis": null}, "y": {"field": "p", "type": "quantitative", "axis": null}, "detail": {"field": "id"}}
   },
   {
    "data": {"values": [{"label": "XCPBTC, 30"}]},
    "mark": {"type": "text", "font": "Liberation Sans", "fontSize": 58, "color": "#ffffff", "opacity": 0.08, "dx": 5, "dy": -22, "align": "center", "baseline": "middle"},
    "encoding": {"text": {"field": "label"}}
   },
   {
    "data": {"values": [{"label": "Counterparty / Bitcoin"}]},
    "mark": {"type": "text", "font": "Liberation Sans", "fontSize": 29, "color": "#ffffff", "opacity": 0.08, "dx": 5, "dy": 29, "align": "center", "baseline": "middle"},
    "encoding": {"text": {"field": "label"}}
   },
   {
    "data": {"name": "bot"},
    "mark": {"type": "rule", "strokeWidth": 1, "clip": true},
    "encoding": {
     "x": {"field": "t", "type": "temporal", "axis": null},
     "y": {"field": "l", "type": "quantitative", "axis": null},
     "y2": {"field": "h"},
     "color": {"condition": {"test": "datum.c >= datum.o", "value": "#43e043"}, "value": "#e8352d"}
    }
   },
   {
    "data": {"name": "bot"},
    "mark": {"type": "bar", "width": 4, "clip": true},
    "encoding": {
     "x": {"field": "t", "type": "temporal", "axis": null},
     "y": {"field": "o", "type": "quantitative", "axis": null},
     "y2": {"field": "c"},
     "color": {"condition": {"test": "datum.c >= datum.o", "value": "#43e043"}, "value": "#e8352d"}
    }
   }
  ]
 }
]
}
